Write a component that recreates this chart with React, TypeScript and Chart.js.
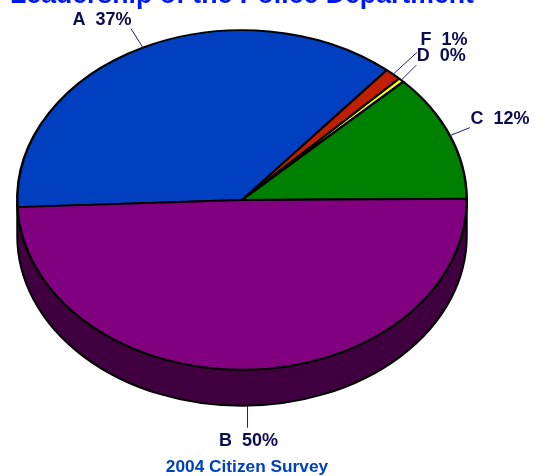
import React, { useEffect, useRef } from "react";
import { Chart, registerables } from "chart.js";

Chart.register(...registerables);

const categories = ["A", "F", "D", "C", "B"];
const values = [36.8, 1.2, 0.4, 12.15, 49.45];
const percentLabels = ["37%", "1%", "0%", "12%", "50%"];
const sliceColors = ["#0040C0", "#C02000", "#FFFF00", "#008000", "#800080"];
const titleText = "Leadership of the Police Department";
const footerText = "2004 Citizen Survey";

const TILT = 170 / 225;
const DEPTH = 36;
const WALL = "#400040";
const INK = "#0C0C50";
// leader end relative to the slice's rim midpoint, then label centre/baseline relative to the leader end
const leaderOffsets = [[-12, -19], [24, -22], [15, -15], [20, -8], [0, 58]];
const labelOffsets = [[-29, -4], [27, -7], [25, -4], [30, -4], [1, 18]];

const pie3d = {
  id: "pie3d",
  beforeDatasetsDraw(chart: any) {
    const { ctx } = chart;
    const arc = chart.getDatasetMeta(0).data[0];
    const { x, y, outerRadius: r } = arc;
    ctx.save();
    ctx.beginPath();
    ctx.ellipse(x, y, r, r * TILT, 0, 0, Math.PI);
    ctx.lineTo(x - r, y + DEPTH);
    ctx.ellipse(x, y + DEPTH, r, r * TILT, 0, Math.PI, 0, true);
    ctx.closePath();
    ctx.fillStyle = WALL;
    ctx.fill();
    ctx.lineWidth = 2;
    ctx.strokeStyle = "#000";
    ctx.stroke();
    ctx.restore();
    ctx.save();
    ctx.translate(0, y);
    ctx.scale(1, TILT);
    ctx.translate(0, -y);
  },
  afterDatasetsDraw(chart: any) {
    const { ctx } = chart;
    ctx.restore();
    const arcs = chart.getDatasetMeta(0).data;
    ctx.save();
    ctx.font = 'bold 18px "Liberation Sans", Arial, sans-serif';
    ctx.textAlign = "center";
    ctx.textBaseline = "alphabetic";
    arcs.forEach((a: any, i: number) => {
      const mid = (a.startAngle + a.endAngle) / 2;
      const px = a.x + a.outerRadius * Math.cos(mid);
      let py = a.y + a.outerRadius * TILT * Math.sin(mid);
      if (Math.sin(mid) > 0.5) py += DEPTH;
      let [lx, ly] = leaderOffsets[i];
      if (Math.sin(mid) > 0.5) ly -= DEPTH;
      const ex = px + lx;
      const ey = py + ly;
      ctx.beginPath();
      ctx.moveTo(px, py);
      ctx.lineTo(ex, ey);
      ctx.lineWidth = 1;
      ctx.strokeStyle = "#20206A";
      ctx.stroke();
      ctx.fillStyle = INK;
      ctx.fillText(categories[i] + "  " + percentLabels[i], ex + labelOffsets[i][0], ey + labelOffsets[i][1]);
    });
    ctx.font = 'bold 17.3px "Liberation Sans", Arial, sans-serif';
    ctx.fillStyle = "#0040C0";
    ctx.fillText(footerText, arcs[0].x + 5, arcs[0].y + 272);
    ctx.restore();
  },
};

export default function App() {
  const ref = useRef<HTMLCanvasElement>(null);
  useEffect(() => {
    const chart = new Chart(ref.current!, {
      type: "pie",
      data: {
        labels: categories,
        datasets: [
          {
            data: values,
            backgroundColor: sliceColors,
            borderColor: "#000",
            borderWidth: 2.5,
            clip: false,
          } as any,
        ],
      },
      options: {
        responsive: false,
        animation: false,
        rotation: 267.6,
        layout: { padding: { top: 14, bottom: 50, left: 10, right: 74 } },
        plugins: {
          legend: { display: false },
          tooltip: { enabled: false },
          title: {
            display: true,
            text: titleText,
            fullSize: false,
            color: "#0018F0",
            font: { family: '"Liberation Sans", Arial, sans-serif', size: 27.1, weight: "bold" },
            padding: { top: 5, bottom: -37.5 },
          },
        },
      },
      plugins: [pie3d],
    } as any);
    return () => chart.destroy();
  }, []);
  return (
    <canvas
      ref={ref}
      width={548}
      height={516}
      style={{ position: "absolute", left: 0, top: -40, width: 548, height: 516, display: "block" }}
    />
  );
}
